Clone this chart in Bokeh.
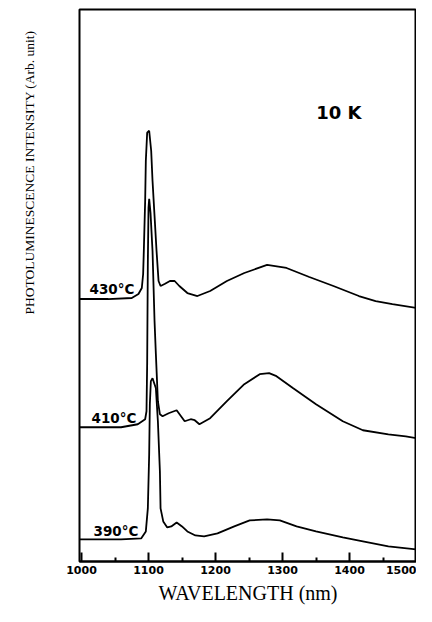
from bokeh.plotting import figure
from bokeh.models import Range1d, FixedTicker, Label, Title
from bokeh.embed import file_html
from bokeh.resources import INLINE

# wavelength (nm) / intensity (arb. units, offset stacked)
wl_430 = [997, 1040, 1075, 1085, 1090, 1092, 1093, 1095, 1096, 1098, 1101, 1104, 1106, 1109, 1112,
          1115, 1118, 1124, 1132, 1139, 1146, 1158, 1173, 1192, 1217, 1243, 1277, 1306, 1340,
          1376, 1414, 1439, 1464, 1500]
pl_430 = [264, 264, 265, 269, 275, 289, 312, 362, 402, 430, 432, 412, 382, 347, 312,
          282, 277, 279, 282, 282, 277, 270, 267, 272, 282, 290, 298, 295, 286,
          277, 267, 262, 259, 255]

wl_410 = [997, 1059, 1084, 1095, 1097, 1098, 1099, 1100, 1101, 1103, 1106, 1109, 1111, 1114, 1117,
          1121, 1130, 1142, 1154, 1163, 1169, 1176, 1192, 1217, 1243, 1266, 1280, 1291, 1316,
          1350, 1390, 1420, 1458, 1484, 1500]
pl_410 = [136, 136, 139, 144, 152, 200, 300, 355, 364, 350, 312, 242, 209, 162, 149,
          147, 150, 153, 142, 144, 143, 139, 145, 162, 179, 189, 190, 187, 175,
          159, 142, 133, 129, 127, 125]

wl_390 = [997, 1059, 1089, 1096, 1099, 1101, 1102, 1103.5, 1106, 1111, 1114, 1117, 1118, 1122,
          1128, 1134, 1142, 1150, 1158, 1170, 1183, 1203, 1228, 1251, 1277, 1296, 1321, 1350,
          1390, 1420, 1458, 1500]
pl_390 = [24, 24, 25, 32, 55, 109, 159, 182, 185, 175, 142, 92, 55, 42,
          36, 37, 41, 37, 32, 28, 27, 30, 37, 43, 44, 43, 37, 32,
          26, 22, 17, 14]

series_labels = ["430°C", "410°C", "390°C"]
label_pos = [(1012, 274), (1015, 145), (1018, 32)]

major_ticks = [1000, 1100, 1200, 1300, 1400, 1500]
minor_ticks = [1050, 1150, 1250, 1350, 1450]

p = figure(width=416, height=606, output_backend="svg", toolbar_location=None,
           x_range=Range1d(997, 1500), y_range=Range1d(2, 553),
           min_border_left=79, min_border_right=0, min_border_top=9, min_border_bottom=44)
p.grid.visible = False
p.yaxis.visible = False
p.outline_line_color = "black"
p.outline_line_width = 2
p.background_fill_color = "white"
p.border_fill_color = "white"

xa = p.xaxis[0]
xa.ticker = FixedTicker(ticks=major_ticks, minor_ticks=minor_ticks)
xa.axis_line_width = 2
xa.major_tick_in = 9
xa.major_tick_out = 0
xa.minor_tick_in = 4
xa.minor_tick_out = 0
xa.major_tick_line_width = 2
xa.minor_tick_line_width = 2
xa.major_label_text_font = "DejaVu Sans"
xa.major_label_text_font_style = "bold"
xa.major_label_text_font_size = "11px"
xa.major_label_text_color = "black"
xa.major_label_standoff = 4
xa.axis_label = "WAVELENGTH (nm)"
xa.axis_label_text_font = "Liberation Serif"
xa.axis_label_text_font_style = "normal"
xa.axis_label_text_font_size = "20px"
xa.axis_label_text_color = "black"
xa.axis_label_standoff = 5

for wl, pl in [(wl_430, pl_430), (wl_410, pl_410), (wl_390, pl_390)]:
    p.line(wl, pl, line_color="black", line_width=1.8)

for txt, (lx, ly) in zip(series_labels, label_pos):
    p.add_layout(Label(x=lx, y=ly, text=txt, text_font="DejaVu Sans",
                       text_font_style="bold", text_font_size="13.5px",
                       text_align="left", text_baseline="middle", text_color="black"))

p.add_layout(Label(x=1384, y=450, text="10 K", text_font="DejaVu Sans",
                   text_font_style="bold", text_font_size="18px",
                   text_align="center", text_baseline="middle", text_color="black"))

# empty spacer between frame and the vertical title
spacer = Title(text=" ", text_font_size="1px", standoff=40)
p.add_layout(spacer, "left")
ytitle = Title(text="PHOTOLUMINESCENCE INTENSITY (Arb. unit)", align="right", offset=21,
               vertical_align="bottom", standoff=0, text_font="Liberation Serif",
               text_font_size="13.5px", text_font_style="normal", text_color="black")
p.add_layout(ytitle, "left")

open("out.html", "w").write(file_html(p, INLINE))
